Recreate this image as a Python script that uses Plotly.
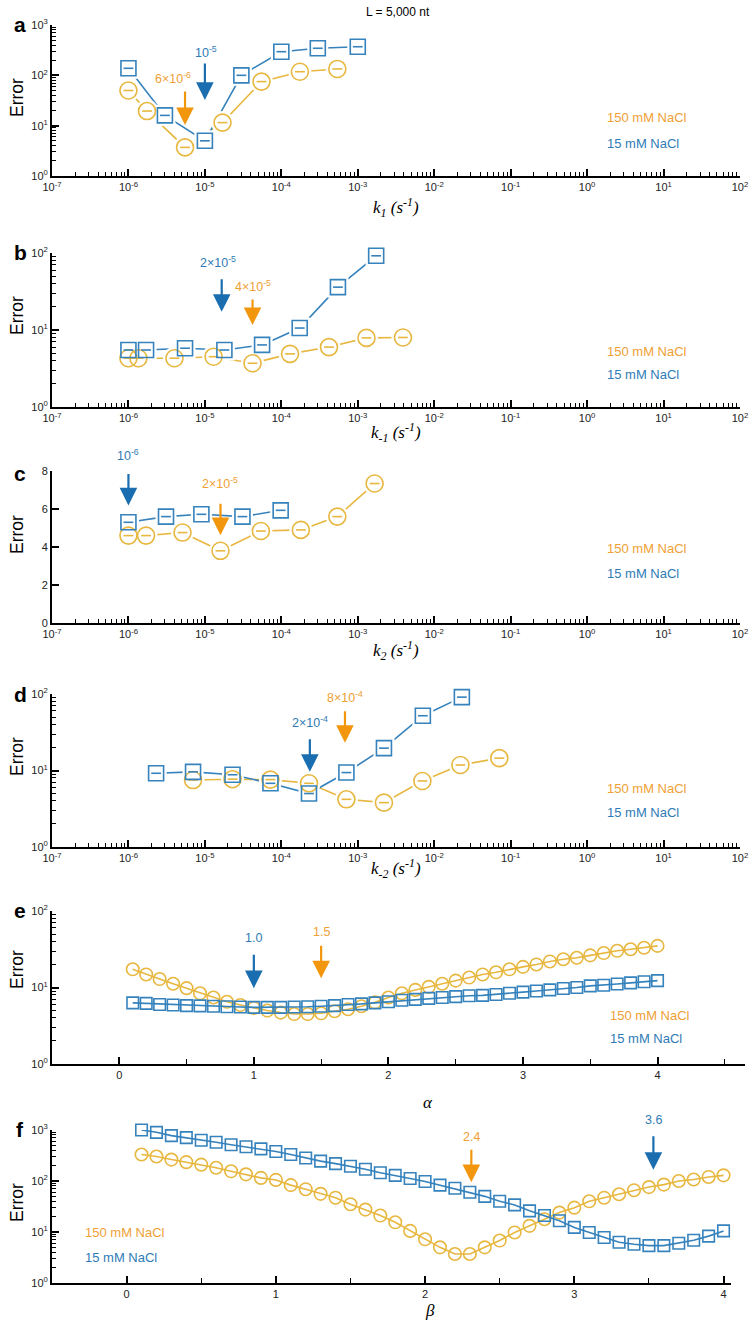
import math
import plotly.graph_objects as go

W, H = 755, 1333

# ---------------- data ----------------
# panel a : k1
a_x_150 = [1e-6, 1.75e-6, 5.5e-6, 1.7e-5, 5.5e-5, 1.75e-4, 5.4e-4]
a_y_150 = [50, 19.5, 3.7, 11.5, 75, 118, 134]
a_x_15 = [1e-6, 3e-6, 1e-5, 3e-5, 1e-4, 3e-4, 1e-3]
a_y_15 = [138, 16, 5.0, 100, 295, 345, 370]

# panel b : k-1
b_x_150 = [1e-6, 1.35e-6, 4e-6, 1.3e-5, 4.2e-5, 1.3e-4, 4.2e-4, 1.3e-3, 3.9e-3]
b_y_150 = [4.3, 4.3, 4.3, 4.5, 3.7, 4.9, 6.0, 7.9, 8.0]
b_x_15 = [1e-6, 1.7e-6, 5.5e-6, 1.8e-5, 5.6e-5, 1.74e-4, 5.5e-4, 1.74e-3]
b_y_15 = [5.5, 5.5, 5.8, 5.5, 6.4, 10.6, 36, 92]

# panel c : k2
c_x_150 = [1e-6, 1.7e-6, 5.1e-6, 1.6e-5, 5.4e-5, 1.8e-4, 5.4e-4, 1.66e-3]
c_y_150 = [4.6, 4.6, 4.76, 3.8, 4.84, 4.9, 5.6, 7.34]
c_x_15 = [1e-6, 3.1e-6, 9e-6, 3.1e-5, 9.8e-5]
c_y_15 = [5.3, 5.6, 5.72, 5.6, 5.93]

# panel d : k-2
d_x_150 = [7e-6, 2.3e-5, 7.2e-5, 2.3e-4, 7.1e-4, 2.2e-3, 7e-3, 2.2e-2, 7.1e-2]
d_y_150 = [7.5, 7.7, 7.6, 6.8, 4.2, 3.8, 7.3, 11.8, 14.5]
d_x_15 = [2.3e-6, 7e-6, 2.3e-5, 7.2e-5, 2.3e-4, 7.1e-4, 2.2e-3, 7.1e-3, 2.3e-2]
d_y_15 = [9.2, 9.6, 8.8, 6.8, 5.0, 9.4, 19.6, 52, 91]

# panel e : alpha
e_x = [0.1, 0.2, 0.3, 0.4, 0.5, 0.6, 0.7, 0.8, 0.9, 1.0,
       1.1, 1.2, 1.3, 1.4, 1.5, 1.6, 1.7, 1.8, 1.9, 2.0,
       2.1, 2.2, 2.3, 2.4, 2.5, 2.6, 2.7, 2.8, 2.9, 3.0,
       3.1, 3.2, 3.3, 3.4, 3.5, 3.6, 3.7, 3.8, 3.9, 4.0]
e_y_150 = [17.3, 14.8, 12.9, 11.2, 9.8, 8.4, 7.4, 6.5, 5.9, 5.4,
           5.0, 4.7, 4.5, 4.5, 4.6, 4.9, 5.2, 5.7, 6.4, 7.4,
           8.4, 9.3, 10.2, 11.2, 12.3, 13.5, 14.8, 15.8, 17.3, 18.6,
           20.0, 21.9, 23.4, 24.5, 26.3, 28.2, 30.2, 31.6, 33.1, 35.0]
e_y_15 = [6.3, 6.2, 6.0, 5.9, 5.8, 5.75, 5.7, 5.6, 5.55, 5.5,
          5.5, 5.5, 5.55, 5.6, 5.7, 5.8, 6.0, 6.1, 6.3, 6.5,
          6.8, 7.0, 7.2, 7.4, 7.6, 7.8, 7.9, 8.1, 8.4, 8.7,
          9.0, 9.3, 9.7, 10.0, 10.5, 10.7, 11.1, 11.5, 11.9, 12.3]

# panel f : beta
f_x = [0.1, 0.2, 0.3, 0.4, 0.5, 0.6, 0.7, 0.8, 0.9, 1.0,
       1.1, 1.2, 1.3, 1.4, 1.5, 1.6, 1.7, 1.8, 1.9, 2.0,
       2.1, 2.2, 2.3, 2.4, 2.5, 2.6, 2.7, 2.8, 2.9, 3.0,
       3.1, 3.2, 3.3, 3.4, 3.5, 3.6, 3.7, 3.8, 3.9, 4.0]
f_y_150 = [331, 302, 263, 234, 209, 182, 155, 135, 115, 105,
           83, 69, 56, 47, 35, 27.5, 21, 15.5, 10.5, 7.2,
           5.0, 3.7, 3.7, 5.0, 6.8, 9.8, 13.2, 17.8, 24, 30,
           40, 47, 55, 66, 76, 85, 100, 107, 120, 129]
f_y_15 = [1000, 900, 776, 708, 631, 575, 513, 468, 427, 380,
          331, 282, 245, 219, 195, 170, 145, 129, 112, 98,
          83, 72, 60, 50, 40, 34, 26, 21, 16.6, 12.3,
          9.8, 7.8, 6.3, 5.75, 5.4, 5.4, 6.0, 6.9, 8.3, 10.5]

# optimum markers (arrow tips): series, x value, y value, label
arrows = {
    "a": [("b", 1e-5, 32.5, "10<sup>-5</sup>"), ("o", 5.5e-6, 10.3, "6×10<sup>-6</sup>")],
    "b": [("b", 1.66e-5, 17.2, "2×10<sup>-5</sup>"), ("o", 4.2e-5, 11.6, "4×10<sup>-5</sup>")],
    "c": [("b", 1e-6, 6.19, "10<sup>-6</sup>"), ("o", 1.6e-5, 4.62, "2×10<sup>-5</sup>")],
    "d": [("b", 2.36e-4, 9.6, "2×10<sup>-4</sup>"), ("o", 6.8e-4, 23, "8×10<sup>-4</sup>")],
    "e": [("b", 1.0, 9.8, "1.0"), ("o", 1.5, 13.2, "1.5")],
    "f": [("o", 2.31, 95, "2.4"), ("b", 3.53, 166, "3.6")],
}

series_names = ["150 mM NaCl", "15 mM NaCl"]

# ---------------- style / layout ----------------
C_CIRC = "#E7B73F"
C_SQ = "#3582BC"
C_ARR_B = "#1A6EAF"
C_ARR_O = "#F2960E"
C_TXT_O = "#EFA034"
C_TXT_B = "#2F7BB6"
SANS = "Liberation Sans, Arial, sans-serif"
SERIF = "Liberation Serif, Times New Roman, serif"

# plot boxes in pixels: (left, right, top, bottom)
boxes = {
    "a": (52, 740, 25, 176),
    "b": (52, 740, 253, 407),
    "c": (52, 740, 471, 623),
    "d": (52, 740, 694, 847),
    "e": (52, 745, 911, 1064),
    "f": (52, 731, 1130, 1283),
}
# arrow geometry per panel: list of (arrow length, label dx, label dy) in px
arrow_geom = {
    "a": [(38, 1, -48), (35, -12, -47)],
    "b": [(34, -4, -50), (27, 0, -39)],
    "c": [(33, 0, -50), (33, 0, -52)],
    "d": [(34, 0, -50), (33, 0, -46)],
    "e": [(35, 0, -50), (34, 0, -46)],
    "f": [(34, 0, -45), (35, 0, -50)],
}

fig = go.Figure()
annotations = []


def px(xp):
    return xp / W


def py(yp):
    return 1 - yp / H


def log_minor(lo, hi):
    vals = []
    for k in range(lo, hi):
        for m in range(2, 10):
            vals.append(m * 10.0 ** k)
    return vals


panel_data = {
    "a": (a_x_150, a_y_150, a_x_15, a_y_15),
    "b": (b_x_150, b_y_150, b_x_15, b_y_15),
    "c": (c_x_150, c_y_150, c_x_15, c_y_15),
    "d": (d_x_150, d_y_150, d_x_15, d_y_15),
    "e": (e_x, e_y_150, e_x, e_y_15),
    "f": (f_x, f_y_150, f_x, f_y_15),
}

ylog_dec = {"a": 3, "b": 2, "c": None, "d": 2, "e": 2, "f": 3}
xtitles = {
    "a": ("<i>k<sub>1</sub> (s<sup>-1</sup>)</i>", 396, 207),
    "b": ("<i>k<sub>-1</sub> (s<sup>-1</sup>)</i>", 396, 433),
    "c": ("<i>k<sub>2</sub> (s<sup>-1</sup>)</i>", 396, 650),
    "d": ("<i>k<sub>-2</sub> (s<sup>-1</sup>)</i>", 396, 868),
    "e": ("<i>α</i>", 428, 1102),
    "f": ("<i>β</i>", 430, 1310),
}
error_y = {"a": 98, "b": 316, "c": 535, "d": 757, "e": 970, "f": 1203}
letter_y = {"a": 25, "b": 253, "c": 473, "d": 695, "e": 910, "f": 1129}
legend_pos = {"a": (605, 118, 143), "b": (605, 352, 374), "c": (605, 548, 573),
              "d": (605, 788, 812), "e": (608, 1015, 1038), "f": (83, 1232, 1257)}

for i, key in enumerate(["a", "b", "c", "d", "e", "f"]):
    n = "" if i == 0 else str(i + 1)
    xa, ya = "x" + n, "y" + n
    L, R, T, B = boxes[key]
    xs1, ys1, xs2, ys2 = panel_data[key]
    big = key in "abcd"
    if big:
        msz_c, msz_s = 17, 15
        # connecting lines (with a white halo around each marker to leave gaps)
        for xs, ys, col in ((xs1, ys1, C_CIRC), (xs2, ys2, C_SQ)):
            fig.add_trace(go.Scatter(x=xs, y=ys, xaxis=xa, yaxis=ya, mode="lines",
                                     line=dict(color=col, width=1.6), showlegend=False,
                                     hoverinfo="skip"))
        for xs, ys, sym, sz in ((xs1, ys1, "circle", msz_c), (xs2, ys2, "square", msz_s)):
            fig.add_trace(go.Scatter(x=xs, y=ys, xaxis=xa, yaxis=ya, mode="markers",
                                     marker=dict(symbol=sym, size=sz + 6, color="white",
                                                 line=dict(width=0)),
                                     cliponaxis=False, showlegend=False, hoverinfo="skip"))
        for xs, ys, sym, sz, col, nm in ((xs1, ys1, "circle-open", msz_c, C_CIRC, series_names[0]),
                                         (xs2, ys2, "square-open", msz_s, C_SQ, series_names[1])):
            fig.add_trace(go.Scatter(x=xs, y=ys, xaxis=xa, yaxis=ya, mode="markers", name=nm,
                                     marker=dict(symbol=sym, size=sz, color=col,
                                                 line=dict(width=1.6, color=col)),
                                     cliponaxis=False, showlegend=False))
            fig.add_trace(go.Scatter(x=xs, y=ys, xaxis=xa, yaxis=ya, mode="markers",
                                     marker=dict(symbol="line-ew", size=7, color=col,
                                                 line=dict(width=1.6, color=col)),
                                     cliponaxis=False, showlegend=False, hoverinfo="skip"))
    else:
        msz_c, msz_s = 12.5, 11.5
        fig.add_trace(go.Scatter(
            x=xs1, y=ys1, xaxis=xa, yaxis=ya, mode="lines+markers", name=series_names[0],
            line=dict(color=C_CIRC, width=1.6),
            marker=dict(symbol="circle-open", size=msz_c, color=C_CIRC, line=dict(width=1.6)),
            cliponaxis=False, showlegend=False))
        fig.add_trace(go.Scatter(
            x=xs2, y=ys2, xaxis=xa, yaxis=ya, mode="lines+markers", name=series_names[1],
            line=dict(color=C_SQ, width=1.6),
            marker=dict(symbol="square-open", size=msz_s, color=C_SQ, line=dict(width=1.6)),
            cliponaxis=False, showlegend=False))

    common = dict(showline=True, linecolor="black", linewidth=2, showgrid=False,
                  zeroline=False, ticks="inside", tickcolor="black", tickwidth=1.5,
                  ticklen=7, tickfont=dict(family=SANS, size=11, color="#222"),
                  fixedrange=True, automargin=False)
    if big:
        xaxis = dict(type="log", range=[-7, 2], domain=[px(L), px(R)], anchor=ya,
                     tickvals=[10.0 ** k for k in range(-7, 3)],
                     ticktext=["10<sup>%d</sup>" % k for k in range(-7, 3)],
                     minor=dict(tickvals=log_minor(-7, 2), ticks="inside", ticklen=4,
                                tickwidth=1.2, tickcolor="black"),
                     **common)
    else:
        xr = [-0.5, 4.65] if key == "e" else [-0.5, 4.05]
        xaxis = dict(type="linear", range=xr, domain=[px(L), px(R)], anchor=ya,
                     tickvals=[0, 1, 2, 3, 4], ticktext=["0", "1", "2", "3", "4"],
                     minor=dict(tickvals=[0.5, 1.5, 2.5, 3.5, 4.5], ticks="inside",
                                ticklen=5, tickwidth=1.2, tickcolor="black"),
                     **common)
    dec = ylog_dec[key]
    if dec is None:
        yaxis = dict(type="linear", range=[0, 8], domain=[py(B), py(T)], anchor=xa,
                     tickvals=[0, 2, 4, 6, 8], ticktext=["0", "2", "4", "6", "8"],
                     **common)
    else:
        yaxis = dict(type="log", range=[0, dec], domain=[py(B), py(T)], anchor=xa,
                     tickvals=[10.0 ** k for k in range(0, dec + 1)],
                     ticktext=["10<sup>%d</sup>" % k for k in range(0, dec + 1)],
                     minor=dict(tickvals=log_minor(0, dec), ticks="inside", ticklen=4,
                                tickwidth=1.2, tickcolor="black"),
                     **common)
    fig.layout["xaxis" + n] = xaxis
    fig.layout["yaxis" + n] = yaxis

    # axis title (x)
    t, tx, ty = xtitles[key]
    annotations.append(dict(text=t, x=px(tx), y=py(ty), xref="paper", yref="paper",
                            showarrow=False, xanchor="center", yanchor="middle",
                            font=dict(family=SERIF, size=17, color="black")))
    # Error
    annotations.append(dict(text="Error", x=px(17), y=py(error_y[key]), xref="paper",
                            yref="paper", showarrow=False, textangle=-90,
                            xanchor="center", yanchor="middle",
                            font=dict(family=SANS, size=17.5, color="black")))
    # panel letter
    annotations.append(dict(text="<b>%s</b>" % key, x=px(20), y=py(letter_y[key]),
                            xref="paper", yref="paper", showarrow=False,
                            xanchor="center", yanchor="middle",
                            font=dict(family=SANS, size=21, color="black")))
    # legend texts
    lx, l1, l2 = legend_pos[key]
    annotations.append(dict(text=series_names[0], x=px(lx), y=py(l1), xref="paper",
                            yref="paper", showarrow=False, xanchor="left",
                            yanchor="middle", font=dict(family=SANS, size=13, color=C_TXT_O)))
    annotations.append(dict(text=series_names[1], x=px(lx), y=py(l2), xref="paper",
                            yref="paper", showarrow=False, xanchor="left",
                            yanchor="middle", font=dict(family=SANS, size=13, color=C_TXT_B)))
    # arrows
    for (col, xv, yv, lab), (ln, ldx, ldy) in zip(arrows[key], arrow_geom[key]):
        ax_x = math.log10(xv) if big else xv
        ax_y = yv if dec is None else math.log10(yv)
        acol = C_ARR_B if col == "b" else C_ARR_O
        tcol = C_TXT_B if col == "b" else C_TXT_O
        annotations.append(dict(x=ax_x, y=ax_y, xref=xa, yref=ya, text="",
                                showarrow=True, ax=0, ay=-ln, axref="pixel", ayref="pixel",
                                arrowhead=2, arrowsize=1.6, arrowwidth=2.2, arrowcolor=acol))
        annotations.append(dict(x=ax_x, y=ax_y, xref=xa, yref=ya, text=lab,
                                showarrow=False, xshift=ldx, yshift=-ldy,
                                xanchor="center", yanchor="middle",
                                font=dict(family=SANS, size=12.5, color=tcol)))

annotations.append(dict(text="L = 5,000 nt", x=px(398), y=py(12), xref="paper", yref="paper",
                        showarrow=False, xanchor="center", yanchor="middle",
                        font=dict(family=SANS, size=12, color="black")))

fig.update_layout(width=W, height=H, margin=dict(l=0, r=0, t=0, b=0, pad=0, autoexpand=False),
                  paper_bgcolor="white", plot_bgcolor="white",
                  annotations=annotations, showlegend=False)

fig.write_html("out.html",
               post_script="document.body.style.margin='0';"
                           "document.body.style.overflow='hidden';")
